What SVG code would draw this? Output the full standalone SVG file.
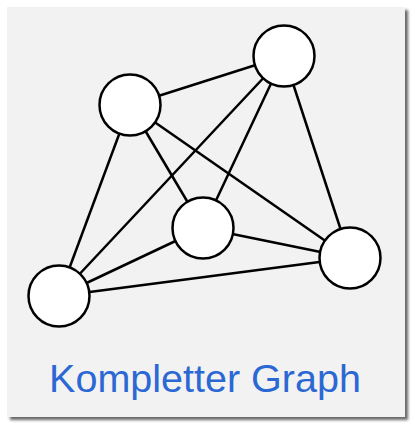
<svg xmlns="http://www.w3.org/2000/svg" width="412" height="424" viewBox="0 0 412 424">
<defs>
<filter id="sh" x="-5%" y="-5%" width="115%" height="115%">
<feGaussianBlur in="SourceAlpha" stdDeviation="1.5"/>
<feOffset dx="3" dy="3" result="b"/>
<feComponentTransfer><feFuncA type="linear" slope="0.6"/></feComponentTransfer>
<feMerge><feMergeNode/><feMergeNode in="SourceGraphic"/></feMerge>
</filter>
<style>
.e{stroke:#000;stroke-width:2.5;fill:none}
.n{fill:#fff;stroke:#000;stroke-width:2.5}
.t{font-family:"Liberation Sans",Arial,sans-serif;font-size:39.5px;fill:#2b68d4;text-anchor:middle}
</style>
</defs>
<rect x="7" y="7" width="398" height="410" fill="#f2f2f2" filter="url(#sh)"/>
<g id="edges">
<line class="e" x1="130" y1="105" x2="284" y2="56"/>
<line class="e" x1="130" y1="105" x2="203" y2="228"/>
<line class="e" x1="130" y1="105" x2="350" y2="258"/>
<line class="e" x1="130" y1="105" x2="59" y2="296"/>
<line class="e" x1="284" y1="56" x2="203" y2="228"/>
<line class="e" x1="284" y1="56" x2="350" y2="258"/>
<line class="e" x1="284" y1="56" x2="59" y2="296"/>
<line class="e" x1="203" y1="228" x2="350" y2="258"/>
<line class="e" x1="203" y1="228" x2="59" y2="296"/>
<line class="e" x1="350" y1="258" x2="59" y2="296"/>
</g>
<g id="n1"><circle class="n" cx="284" cy="56" r="30.5"/></g>
<g id="n2"><circle class="n" cx="130" cy="105" r="30.5"/></g>
<g id="n3"><circle class="n" cx="203" cy="228" r="30.5"/></g>
<g id="n4"><circle class="n" cx="350" cy="258" r="30.5"/></g>
<g id="n5"><circle class="n" cx="59" cy="296" r="30.5"/></g>
<text class="t" x="205" y="392">Kompletter Graph</text>
</svg>
